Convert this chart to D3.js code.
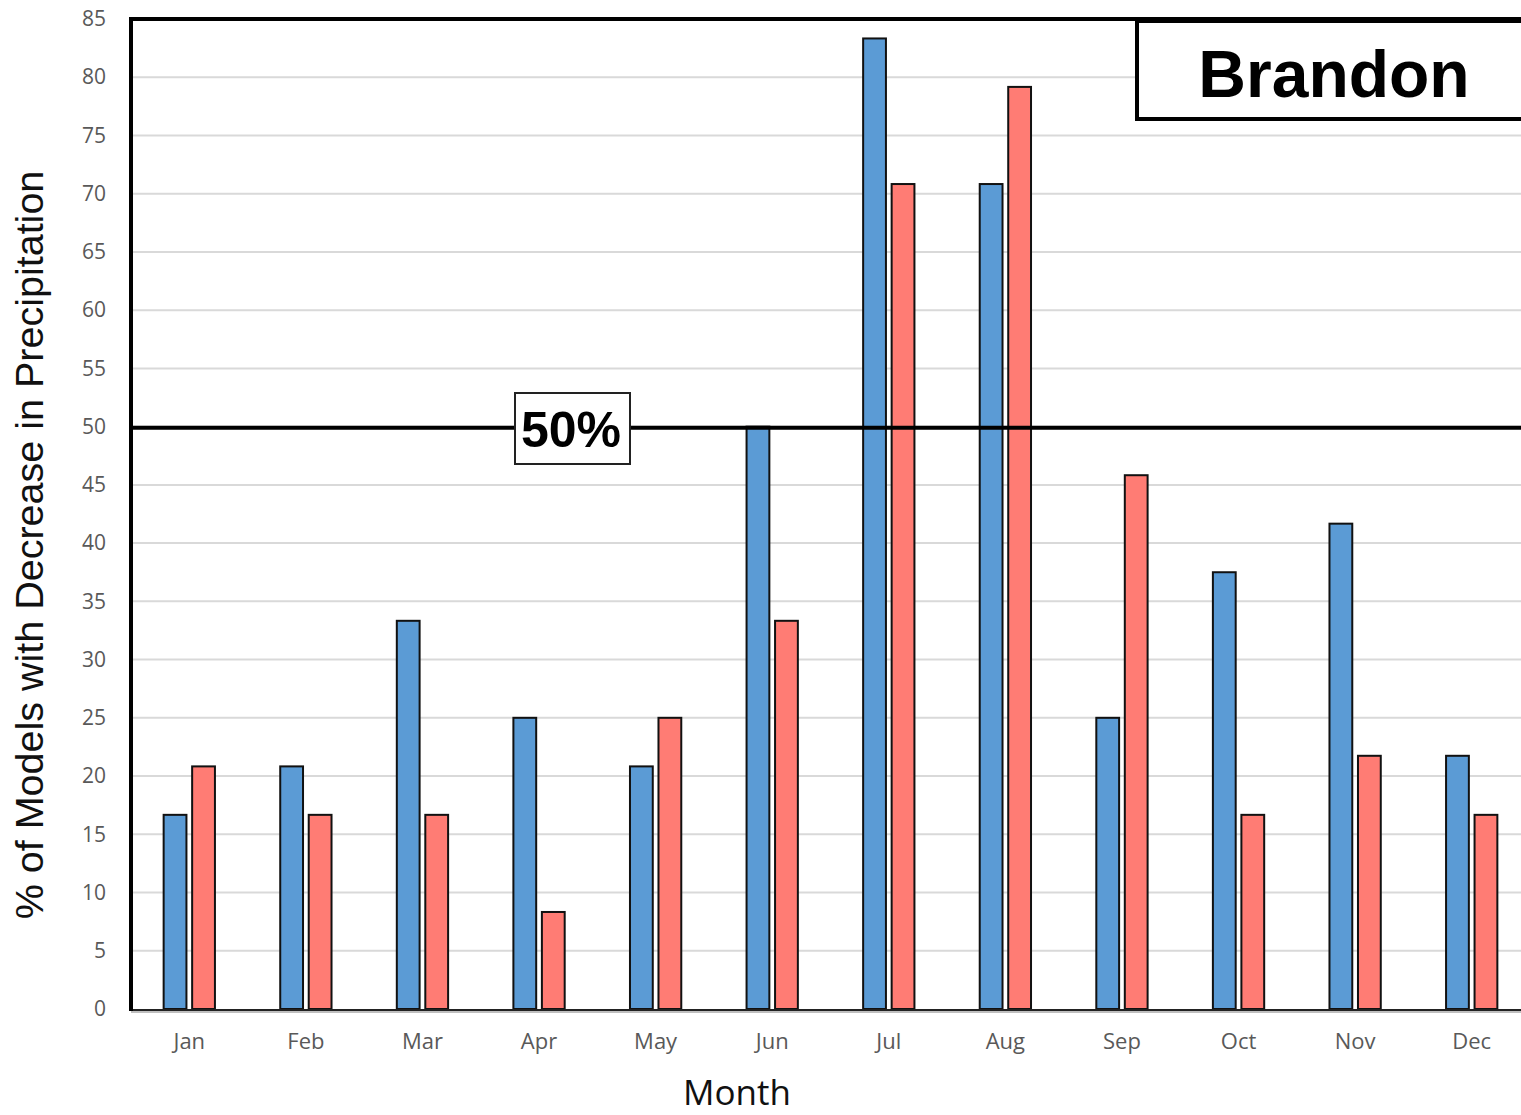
<!DOCTYPE html>
<html><head><meta charset="utf-8">
<script src="https://cdn.jsdelivr.net/npm/d3@7"></script>
<style>body{margin:0;background:#fff}svg{display:block}</style>
</head><body>
<script>
const months = ["Jan","Feb","Mar","Apr","May","Jun","Jul","Aug","Sep","Oct","Nov","Dec"];
const seriesNames = ["blue","red"];
const blueValues = [16.67,20.83,33.33,25,20.83,50,83.33,70.83,25,37.5,41.67,21.74];
const redValues  = [20.83,16.67,16.67,8.33,25,33.33,70.83,79.17,45.83,16.67,21.74,16.67];
const yTicks = [0,5,10,15,20,25,30,35,40,45,50,55,60,65,70,75,80,85];
const colors = {blue:"#5B9BD5", red:"#FF7C74"};

(function(){
const W=1521,H=1115;
const pLeft=131,pRight=1530,pTop=19,pBottom=1009;
const svg=d3.select("body").append("svg").attr("width",W).attr("height",H);

const x=d3.scaleBand().domain(months).range([pLeft,pRight]).paddingInner(0.56).paddingOuter(0.28);
const x1=d3.scaleBand().domain(seriesNames).range([0,x.bandwidth()]).paddingInner(0.2);
const y=d3.scaleLinear().domain([0,85]).range([pBottom,pTop]);

// gridlines
svg.append("g").selectAll("line").data(yTicks.filter(d=>d>0&&d<85)).join("line")
  .attr("x1",pLeft).attr("x2",W).attr("y1",d=>y(d)).attr("y2",d=>y(d))
  .attr("stroke","#d9d9d9").attr("stroke-width",2);

// y tick labels
const yAxis=svg.append("g").attr("transform",`translate(${pLeft},0)`)
  .call(d3.axisLeft(y).tickValues(yTicks).tickSize(0).tickPadding(25));
yAxis.select(".domain").remove();
yAxis.selectAll("text").attr("font-family","Open Sans").attr("font-size",21).attr("fill","#595959");

// x labels
const xAxis=svg.append("g").attr("transform",`translate(0,${pBottom})`)
  .call(d3.axisBottom(x).tickSize(0).tickPadding(24));
xAxis.select(".domain").remove();
xAxis.selectAll("text").attr("font-family","Open Sans").attr("font-size",22).attr("fill","#595959");

// bars
const data=months.map((m,i)=>({m,vals:[{s:"blue",v:blueValues[i]},{s:"red",v:redValues[i]}]}));
svg.append("g").selectAll("g").data(data).join("g")
  .attr("transform",d=>`translate(${x(d.m)},0)`)
  .selectAll("rect").data(d=>d.vals).join("rect")
  .attr("x",d=>x1(d.s)).attr("width",x1.bandwidth())
  .attr("y",d=>y(d.v)).attr("height",d=>y(0)-y(d.v))
  .attr("fill",d=>colors[d.s]).attr("stroke","#111").attr("stroke-width",2);

// baseline
svg.append("line").attr("x1",pLeft).attr("x2",W).attr("y1",pBottom+1).attr("y2",pBottom+1)
  .attr("stroke","#222").attr("stroke-width",2);
svg.append("line").attr("x1",pLeft).attr("x2",W).attr("y1",pBottom+3).attr("y2",pBottom+3)
  .attr("stroke","#aaa").attr("stroke-width",1.5);

// frame: top and left
svg.append("line").attr("x1",pLeft).attr("x2",W).attr("y1",pTop).attr("y2",pTop).attr("stroke","#000").attr("stroke-width",4);
svg.append("line").attr("x1",pLeft).attr("x2",pLeft).attr("y1",pTop-2).attr("y2",pBottom+2).attr("stroke","#000").attr("stroke-width",4);

// 50% line
svg.append("line").attr("x1",pLeft).attr("x2",W).attr("y1",y(50)+1).attr("y2",y(50)+1).attr("stroke","#000").attr("stroke-width",4);
svg.append("rect").attr("x",515).attr("y",393).attr("width",115).attr("height",71).attr("fill","#fff").attr("stroke","#222").attr("stroke-width",2);
svg.append("text").attr("x",571).attr("y",447).attr("text-anchor","middle")
  .attr("font-family","Liberation Sans, Arial").attr("font-weight","bold").attr("font-size",50).text("50%");

// Brandon box
svg.append("rect").attr("x",1137).attr("y",21).attr("width",420).attr("height",98).attr("fill","#fff").attr("stroke","#000").attr("stroke-width",4);
svg.append("text").attr("x",1334).attr("y",97).attr("text-anchor","middle")
  .attr("font-family","Liberation Sans, Arial").attr("font-weight","bold").attr("font-size",66).text("Brandon");

// axis titles
svg.append("text").attr("transform","translate(43,545) rotate(-90)").attr("text-anchor","middle")
  .attr("font-family","Liberation Sans, Arial").attr("font-size",39.5).attr("fill","#111")
  .text("% of Models with Decrease in Precipitation");
svg.append("text").attr("x",737).attr("y",1105).attr("text-anchor","middle")
  .attr("font-family","Open Sans").attr("font-size",35).attr("fill","#111").text("Month");
})();
</script>
</body></html>
